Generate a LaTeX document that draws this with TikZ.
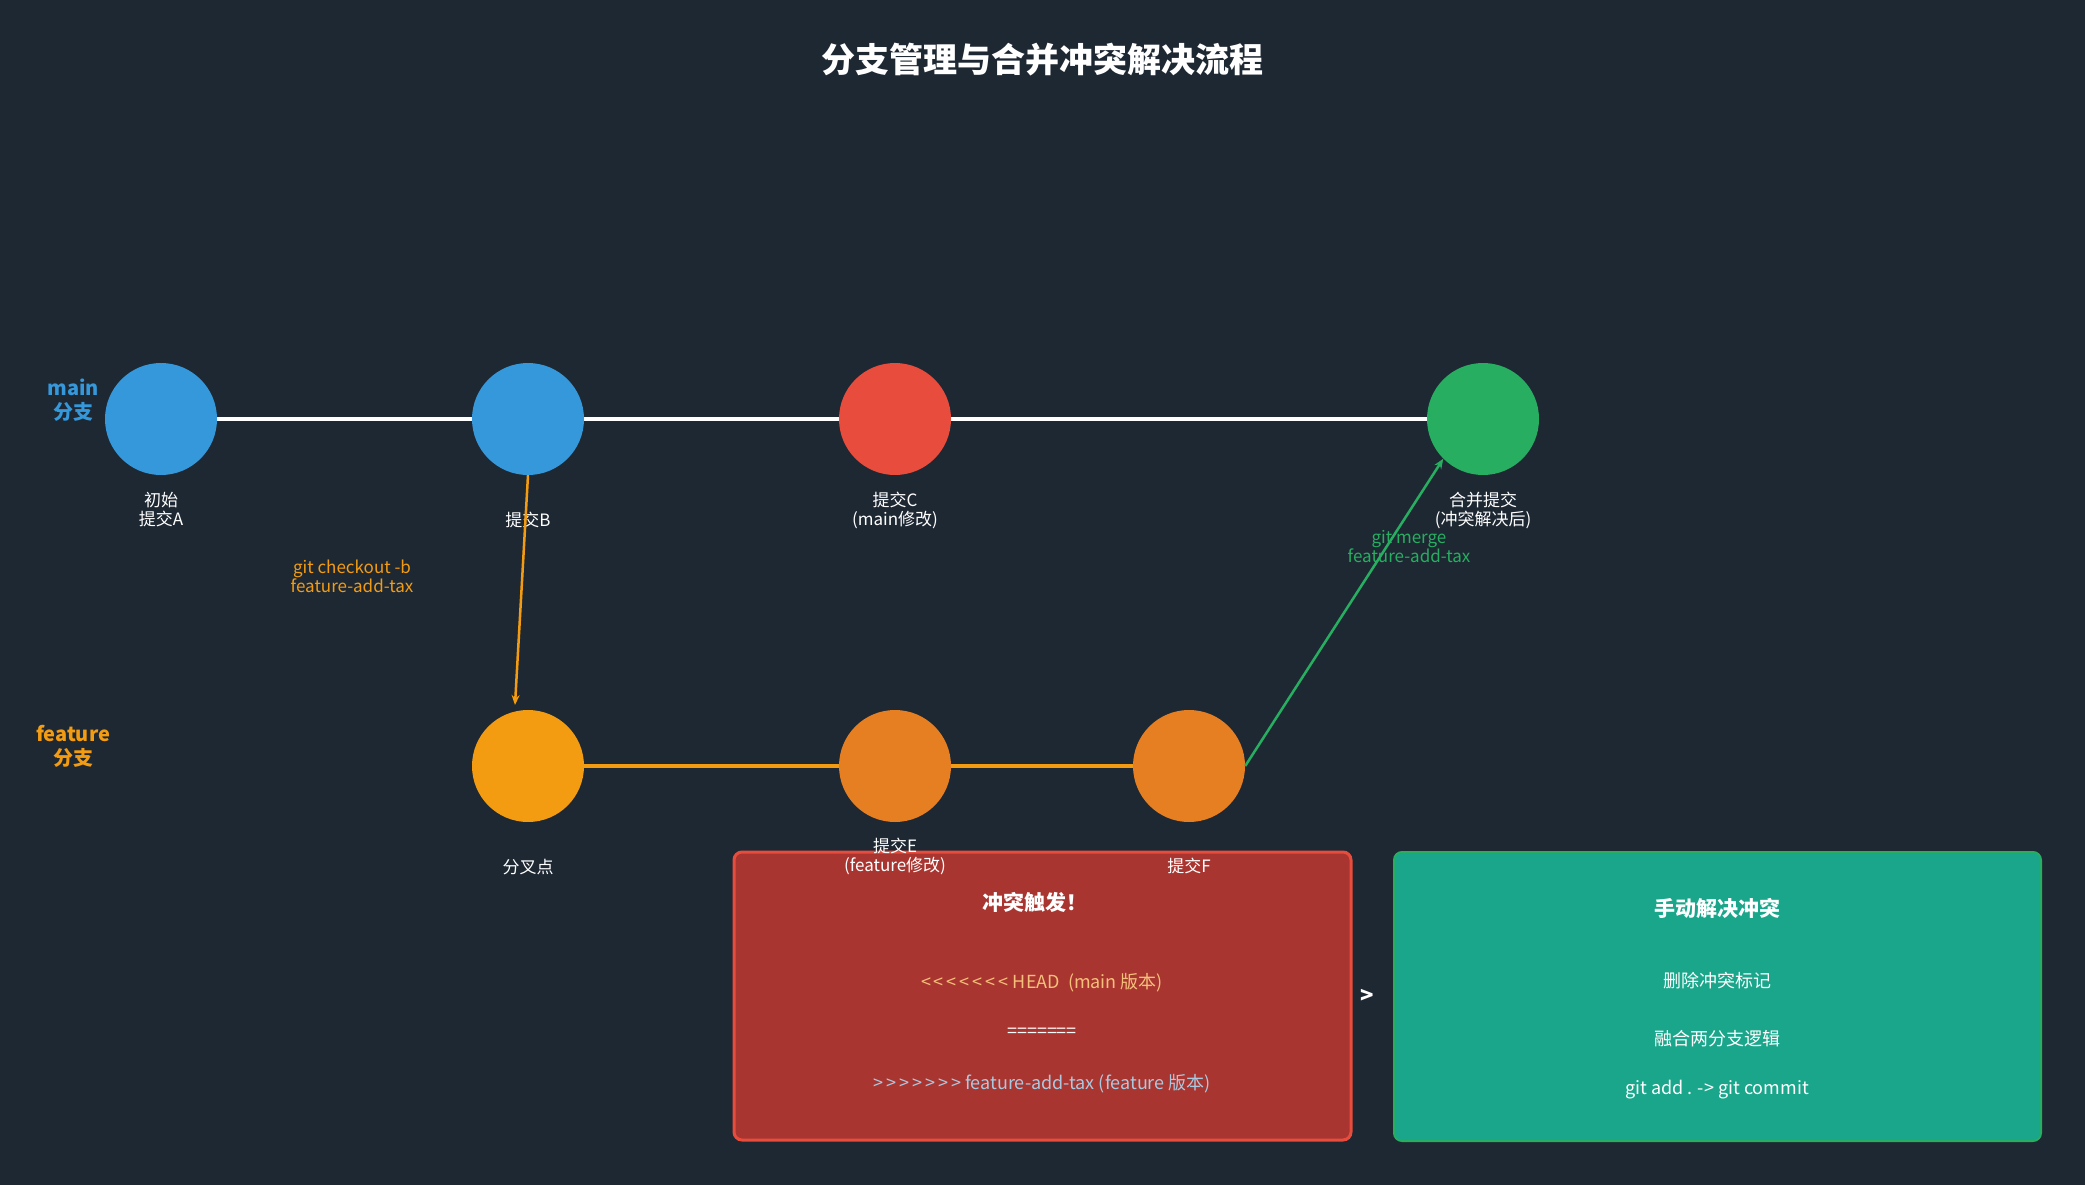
\documentclass[tikz,border=0pt]{standalone}
\usepackage{fontspec}
\setmainfont{Noto Sans CJK SC}
\usetikzlibrary{calc}
\usetikzlibrary{arrows.meta}
\definecolor{bg}{HTML}{1E2833}
\definecolor{mainblue}{HTML}{3498DB}
\definecolor{conflred}{HTML}{E74C3C}
\definecolor{mergegreen}{HTML}{27AE60}
\definecolor{forkorange}{HTML}{F39C12}
\definecolor{featorange}{HTML}{E67E22}
\definecolor{boxred}{HTML}{A93530}
\definecolor{boxgreen}{HTML}{1AA68B}
\definecolor{headtxt}{HTML}{F5C07A}
\definecolor{feattxt}{HTML}{A9C9E0}
\tikzset{
    commit/.style={circle,minimum size=112pt,inner sep=0pt},
    lbl/.style={text=white,font=\fontsize{17}{19}\selectfont,align=center},
    boxtxt/.style={font=\fontsize{18}{21}\selectfont,align=center},
}

\begin{document}
\begin{tikzpicture}[x=1pt,y=-1pt]
\fill[bg] (0,0) rectangle (2085,1185);
\useasboundingbox (0,0) rectangle (2085,1185);

\coordinate (a) at (161,419);
\coordinate (b) at (528,419);
\coordinate (c) at (895,419);
\coordinate (m) at (1483,419);
\coordinate (d) at (528,766);
\coordinate (e) at (895,766);
\coordinate (f) at (1189,766);

\node[text=white,font=\fontsize{34}{38}\selectfont\bfseries] (title) at (1042,60) {分支管理与合并冲突解决流程};

%\node[mainblue] at (73,400) {main};
\node[text=mainblue,font=\fontsize{20}{24}\selectfont\bfseries,align=center] (mainlbl) at (73,400) {main\\分支};
\node[text=forkorange,font=\fontsize{20}{24}\selectfont\bfseries,align=center] (featlbl) at (73,746) {feature\\分支};

% branch lines
\draw[white,line width=4pt] (a)--(m);
\draw[forkorange,line width=4pt] (d)--(f);

\node[commit,fill=mainblue] (ca) at (a) {};
\node[commit,fill=mainblue] (cb) at (b) {};
\node[commit,fill=conflred] (cc) at (c) {};
\node[commit,fill=mergegreen] (cm) at (m) {};
\node[commit,fill=forkorange] (cd) at (d) {};
\node[commit,fill=featorange] (ce) at (e) {};
\node[commit,fill=featorange] (cf) at (f) {};

\node[lbl] (la) at (161,510) {初始\\提交A};
\node[lbl] (lb) at (528,520) {提交B};
\node[lbl] (lc) at (895,510) {提交C\\(main修改)};
\node[lbl] (lm) at (1483,510) {合并提交\\(冲突解决后)};
\node[lbl] (ld) at (528,867) {分叉点};

% boxes
\draw[boxred,fill=boxred,draw=conflred,line width=3pt,rounded corners=8pt] (734,852) rectangle (1351,1140);
\draw[fill=boxgreen,draw=mergegreen,line width=2pt,rounded corners=8pt] (1394,852) rectangle (2041,1141);

\node[lbl] (le) at (895,856) {提交E\\(feature修改)};
\node[lbl] (lf) at (1189,866) {提交F};

\draw[forkorange,line width=2.5pt,-{Stealth[length=10pt,width=8pt]}] (cb.south)--(515,705);
\draw[mergegreen,line width=2.5pt,-{Stealth[length=10pt,width=8pt]}] (cf.east)--(cm.south west);

\node[text=forkorange,font=\fontsize{17}{19}\selectfont,align=center] (lco) at (352,576) {git checkout -b\\feature-add-tax};
\node[text=mergegreen,font=\fontsize{17}{19}\selectfont,align=center] (lmg) at (1409,547) {git merge\\feature-add-tax};

\node[text=white,font=\fontsize{21}{24}\selectfont\bfseries] (ctitle) at (1035,902) {冲突触发！};
\node[boxtxt,text=headtxt] (chead) at (1042,983) {<\,<\,<\,<\,<\,<\,< HEAD\ \ (main 版本)};
\node[boxtxt,text=white] (csep) at (1042,1033) {=======};
\node[boxtxt,text=feattxt] (cfeat) at (1042,1084) {>\,>\,>\,>\,>\,>\,> feature-add-tax (feature 版本)};

\node[text=white,font=\fontsize{22}{24}\selectfont\bfseries] (gt) at (1367,996) {>};

\node[text=white,font=\fontsize{21}{24}\selectfont\bfseries] (rtitle) at (1717,908) {手动解决冲突};
\node[boxtxt,text=white] (r1) at (1717,981) {删除冲突标记};
\node[boxtxt,text=white] (r2) at (1717,1039) {融合两分支逻辑};
\node[boxtxt,text=white] (r3) at (1717,1090) {git add . -> git commit};
\end{tikzpicture}
\end{document}
